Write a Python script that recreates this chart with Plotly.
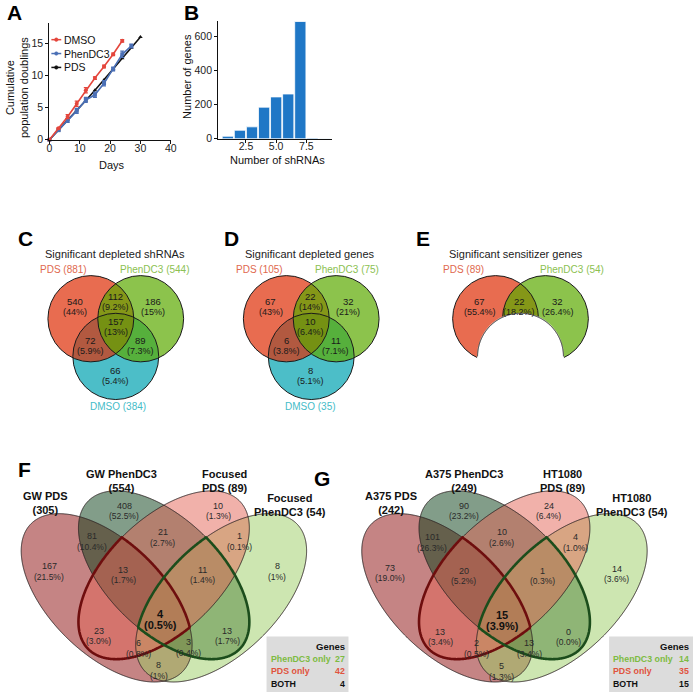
import numpy as np
import plotly.graph_objects as go

FONT = "Liberation Sans, Arial, Helvetica, sans-serif"

# ---------------- Panel A data ----------------
dmso_days = [0, 3, 6, 9, 12, 15, 18, 21, 24]
dmso_pd = [0, 1.8, 3.6, 5.6, 7.7, 9.6, 11.4, 13.3, 15.4]
dmso_err = [0, 0.1, 0.3, 0.4, 0.4, 0.2, 0.2, 0.2, 0.2]
phen_days = [0, 3, 6, 9, 12, 15, 18, 21, 24, 27]
phen_pd = [0, 1.5, 3.0, 4.5, 6.2, 7.0, 8.8, 11.0, 13.3, 14.6]
phen_err = [0, 0.1, 0.3, 0.4, 0.4, 0.4, 0.4, 0.3, 0.5, 0.3]
pds_days = [0, 3, 6, 9, 12, 15, 18, 21, 24, 27, 30]
pds_pd = [0, 1.5, 3.1, 4.6, 6.1, 7.7, 9.3, 11.0, 12.7, 14.3, 16.0]
a_series = ["DMSO", "PhenDC3", "PDS"]

# ---------------- Panel B data ----------------
n_shrnas = [1, 2, 3, 4, 5, 6, 7, 8, 9]
n_genes = [15, 50, 70, 185, 245, 262, 686, 5, 2]
b_xticks = [2.5, 5.0, 7.5]
b_xticktext = ["2.5", "5.0", "7.5"]

# ---------------- Panels C, D, E data ----------------
c_title = "Significant depleted shRNAs"
c_sets = ["PDS (881)", "PhenDC3 (544)", "DMSO (384)"]
c_counts = [540, 112, 186, 157, 72, 89, 66]
c_pcts = ["44%", "9.2%", "15%", "13%", "5.9%", "7.3%", "5.4%"]

d_title = "Significant depleted genes"
d_sets = ["PDS (105)", "PhenDC3 (75)", "DMSO (35)"]
d_counts = [67, 22, 32, 10, 6, 11, 8]
d_pcts = ["43%", "14%", "21%", "6.4%", "3.8%", "7.1%", "5.1%"]

e_title = "Significant sensitizer genes"
e_sets = ["PDS (89)", "PhenDC3 (54)"]
e_counts = [67, 22, 32]
e_pcts = ["55.4%", "18.2%", "26.4%"]

# ---------------- Panels F, G data ----------------
f_sets = ["GW PDS<br>(305)", "GW PhenDC3<br>(554)", "Focused<br>PDS (89)", "Focused<br>PhenDC3 (54)"]
f_counts = [408, 10, 81, 21, 1, 167, 13, 11, 8, 4, 23, 13, 6, 3, 8]
f_pcts = ["52.5%", "1.3%", "10.4%", "2.7%", "0.1%", "21.5%", "1.7%", "1.4%", "1%",
          "0.5%", "3.0%", "1.7%", "0.8%", "0.4%", "1%"]
f_summary_labels = ["PhenDC3 only", "PDS only", "BOTH"]
f_summary_values = [27, 42, 4]

g_sets = ["A375 PDS<br>(242)", "A375 PhenDC3<br>(249)", "HT1080<br>PDS (89)", "HT1080<br>PhenDC3 (54)"]
g_counts = [90, 24, 101, 10, 4, 73, 20, 1, 14, 15, 13, 0, 2, 13, 5]
g_pcts = ["23.2%", "6.4%", "26.3%", "2.6%", "1.0%", "19.0%", "5.2%", "0.3%", "3.6%",
          "3.9%", "3.4%", "0.0%", "0.5%", "3.4%", "1.3%"]
g_summary_labels = ["PhenDC3 only", "PDS only", "BOTH"]
g_summary_values = [14, 35, 15]

# ---------------- layout helpers (page pixel coordinates) ----------------
W = H = 699
shapes = []
annotations = []


def ann(x, y, text, size=9, color="#111", bold=False, xanchor="center", yanchor="middle", angle=0):
    if bold:
        text = "<b>" + text + "</b>"
    annotations.append(dict(x=x, y=y, xref="x3", yref="y3", text=text, showarrow=False,
                            font=dict(family=FONT, size=size, color=color),
                            xanchor=xanchor, yanchor=yanchor, textangle=angle))


def path_str(xs, ys, close=True):
    s = "M " + " L ".join(f"{x:.2f},{y:.2f}" for x, y in zip(xs, ys))
    return s + (" Z" if close else "")


def add_path(xs, ys, fill=None, line=None, width=1.0, close=True):
    shapes.append(dict(type="path", xref="x3", yref="y3", layer="above",
                       path=path_str(xs, ys, close),
                       fillcolor=fill if fill else "rgba(0,0,0,0)",
                       line=dict(color=line if line else "rgba(0,0,0,0)", width=width if line else 0)))


def add_circle(cx, cy, r, fill=None, line=None, width=1.0):
    shapes.append(dict(type="circle", xref="x3", yref="y3", layer="above",
                       x0=cx - r, x1=cx + r, y0=cy - r, y1=cy + r,
                       fillcolor=fill if fill else "rgba(0,0,0,0)",
                       line=dict(color=line if line else "rgba(0,0,0,0)", width=width if line else 0)))


def ellipse_pts(cx, cy, a, b, phi, n=720):
    t = np.linspace(0, 2 * np.pi, n, endpoint=False)
    x = cx + a * np.cos(t) * np.cos(phi) - b * np.sin(t) * np.sin(phi)
    y = cy + a * np.cos(t) * np.sin(phi) + b * np.sin(t) * np.cos(phi)
    return x, y


def inside_ell(e, x, y):
    cx, cy, a, b, phi = e
    dx, dy = x - cx, y - cy
    u = dx * np.cos(phi) + dy * np.sin(phi)
    v = -dx * np.sin(phi) + dy * np.cos(phi)
    return (u / a) ** 2 + (v / b) ** 2 <= 1.0


def lens(e1, e2):
    x1, y1 = ellipse_pts(*e1)
    x2, y2 = ellipse_pts(*e2)
    m1 = inside_ell(e2, x1, y1)
    m2 = inside_ell(e1, x2, y2)
    xs = np.concatenate([x1[m1], x2[m2]])
    ys = np.concatenate([y1[m1], y2[m2]])
    cx, cy = xs.mean(), ys.mean()
    o = np.argsort(np.arctan2(ys - cy, xs - cx))
    return xs[o], ys[o]


# ---------------- panel letters ----------------
for letter, (lx, ly) in zip("ABCDEFG", [(12, 13), (191, 13), (23, 241), (231, 241),
                                         (425, 241), (22, 474), (323, 483)]):
    ann(lx, ly, letter, size=21, color="#000", bold=True)

# ---------------- Panel A legend keys & titles ----------------
a_colors = ["#e4463c", "#4a6fb5", "#111111"]
for i, (name, col) in enumerate(zip(a_series, a_colors)):
    yy = 40 + 14 * i
    add_path([49, 59], [yy, yy], line=col, width=1.5, close=False)
    add_circle(54, yy, 1.8, fill=col, line=col, width=0.5)
    ann(60, yy, name, size=10.5, color="#111", xanchor="left")
ann(110, 166, "Days", size=11, color="#111")
ann(14, 88, "Cumulative<br>population doublings", size=11, color="#111", angle=-90)
ann(187, 77, "Number of genes", size=11, color="#111", angle=-90)
ann(278, 161, "Number of shRNAs", size=11, color="#111")

# ---------------- Panels C, D, E (circle Venns) ----------------
ALPHA3 = 0.7
PDS_FILL = f"rgba(222,45,5,{ALPHA3})"
PHEN_FILL = f"rgba(91,169,0,{ALPHA3})"
DMSO_FILL = f"rgba(0,162,176,{ALPHA3})"
PDS_TXT = "#e0694f"
PHEN_TXT = "#8cc152"
DMSO_TXT = "#45bcc8"
R3 = 43.5
D3 = 50.5
CY3 = 321.5

region_off = [(-16, -17), (25, -22), (63, -17), (25, 3), (0, 22), (50, 22), (25, 52)]


def venn3(px, title, sets, counts, pcts, label_pos):
    centers = [(px, CY3), (px + D3, CY3), (px + D3 / 2, CY3 + 38)]
    fills = [PDS_FILL, PHEN_FILL, DMSO_FILL]
    for i in [2, 0, 1]:
        add_circle(*centers[i], R3, fill=fills[i])
    for i in [2, 0, 1]:
        add_circle(*centers[i], R3, line="#1a1a1a", width=1)
    for (dx, dy), c, p in zip(region_off, counts, pcts):
        ann(px + dx, CY3 + dy, str(c), size=9.5, color="#1a1a1a")
        ann(px + dx, CY3 + dy + 10.5, f"({p})", size=9, color="#1a1a1a")
    ann(px + label_pos[0], 256, title, size=11, color="#222")
    ann(px + label_pos[1], 272, sets[0], size=10, color=PDS_TXT)
    ann(px + label_pos[2], 272, sets[1], size=10, color=PHEN_TXT)
    ann(px + label_pos[3], 410, sets[2], size=10, color=DMSO_TXT)


venn3(89, c_title, c_sets, c_counts, c_pcts, (24, -28, 64, 28))
venn3(287, d_title, d_sets, d_counts, d_pcts, (24, -27, 61, 25))

# Panel E: two circles with a white cut-out
pxE = 499
cE = [(pxE, CY3), (pxE + D3, CY3)]
add_circle(*cE[0], R3, fill=PDS_FILL)
add_circle(*cE[1], R3, fill=PHEN_FILL)
add_circle(*cE[0], R3, line="#1a1a1a", width=1)
add_circle(*cE[1], R3, line="#1a1a1a", width=1)
wc = (pxE + D3 / 2, CY3 + 38)
add_circle(*wc, R3 + 0.6, fill="#ffffff")
t = np.linspace(np.pi, 2 * np.pi, 400)
ax_ = wc[0] + R3 * np.cos(t)
ay_ = wc[1] + R3 * np.sin(t)
m = ((ax_ - cE[0][0]) ** 2 + (ay_ - cE[0][1]) ** 2 <= R3 ** 2) | ((ax_ - cE[1][0]) ** 2 + (ay_ - cE[1][1]) ** 2 <= R3 ** 2)
add_path(ax_[m], ay_[m], line="#1a1a1a", width=1, close=False)
for dx, c, p in zip([-16, 24, 63], e_counts, e_pcts):
    ann(pxE + dx, CY3 - 17, str(c), size=9.5, color="#1a1a1a")
    ann(pxE + dx, CY3 - 6.5, f"({p})", size=9, color="#1a1a1a")
ann(pxE + 21, 256, e_title, size=11, color="#222")
ann(pxE - 33, 272, e_sets[0], size=10, color=PDS_TXT)
ann(pxE + 77, 272, e_sets[1], size=10, color=PHEN_TXT)

# ---------------- Panels F, G (four-ellipse Venns) ----------------
ALPHA4 = 0.5
E_FILLS = [f"rgba(140,10,10,{ALPHA4})", f"rgba(5,60,20,{ALPHA4})",
           f"rgba(228,100,85,{ALPHA4})", f"rgba(155,205,100,{ALPHA4})"]
EA, EB, PHI = 107, 57, np.deg2rad(44)

f_pos = [(-40, 510), (55, 510), (-73, 541), (-1, 537), (77, 541), (-116, 571), (-41, 575),
         (39, 575), (115, 571), (-3, 619), (-66, 636), (64, 636), (-26, 649), (25, 648), (-5, 671)]
g_pos = [(-41, 510), (45, 510), (-73, 542), (-3, 537), (72, 542), (-116, 573), (-41, 576),
         (39, 576), (114, 574), (-2, 620), (-65, 637), (65, 637), (-28, 649), (25, 649), (-3, 672)]


def venn4(xc, sets, set_pos, counts, pcts, pos, summ_labels, summ_values, box):
    ells = [(xc - 58, 603, EA, EB, PHI), (xc, 580, EA, EB, PHI),
            (xc, 580, EA, EB, -PHI), (xc + 58, 603, EA, EB, -PHI)]
    for k in [0, 1, 3, 2]:
        x, y = ellipse_pts(*ells[k])
        add_path(x, y, fill=E_FILLS[k])
    for e in ells:
        x, y = ellipse_pts(*e)
        add_path(x, y, line="rgba(45,35,35,0.9)", width=1)
    lx, ly = lens(ells[0], ells[2])
    add_path(lx, ly, line="#6e0e0e", width=2.6)
    lx, ly = lens(ells[1], ells[3])
    add_path(lx, ly, line="#1c4d1c", width=2.6)
    for i, ((dx, yy), c, p) in enumerate(zip(pos, counts, pcts)):
        big = (i == 9)
        ann(xc + dx, yy, str(c), size=11 if big else 9, color="#111" if big else "#2a2a2a", bold=big)
        ann(xc + dx, yy + (11 if big else 10.5), f"({p})", size=11 if big else 8.5,
            color="#111" if big else "#2a2a2a", bold=big)
    for s, (dx, yy) in zip(sets, set_pos):
        ann(xc + dx, yy, s, size=11, color="#111", bold=True)
    bx0, bx1 = box
    shapes.append(dict(type="rect", xref="x3", yref="y3", layer="above", x0=bx0, x1=bx1,
                       y0=642, y1=698, fillcolor="#dcdcdc", line=dict(width=0)))
    ann(bx1 - 2, 652, "Genes", size=9.5, color="#111", bold=True, xanchor="right")
    cols = ["#7dbb42", "#e0533d", "#111111"]
    for k, (lab, v, col) in enumerate(zip(summ_labels, summ_values, cols)):
        yy = 664.5 + 12.5 * k
        ann(bx0 + 2, yy, lab, size=8.8, color=col, bold=True, xanchor="left")
        ann(bx1 - 2, yy, str(v), size=8.8, color=col, bold=True, xanchor="right")


venn4(163, f_sets, [(-120, 507), (-43, 485), (62, 485), (128, 509)], f_counts, f_pcts, f_pos,
      f_summary_labels, f_summary_values, (267, 350))
venn4(508, g_sets, [(-115, 507), (-41, 485), (59, 485), (129, 509)], g_counts, g_pcts, g_pos,
      g_summary_labels, g_summary_values, (614, 699))

# ---------------- traces ----------------
fig = go.Figure()
fig.add_trace(go.Scatter(x=pds_days, y=pds_pd, mode="lines+markers", name=a_series[2],
                         line=dict(color=a_colors[2], width=1.6),
                         marker=dict(symbol="triangle-up", size=4, color=a_colors[2]),
                         xaxis="x", yaxis="y", showlegend=False, cliponaxis=False))
fig.add_trace(go.Scatter(x=phen_days, y=phen_pd, mode="lines+markers", name=a_series[1],
                         line=dict(color=a_colors[1], width=1.6),
                         marker=dict(symbol="square", size=4, color=a_colors[1]),
                         error_y=dict(type="data", array=phen_err, color=a_colors[1], thickness=1.2, width=2),
                         xaxis="x", yaxis="y", showlegend=False, cliponaxis=False))
fig.add_trace(go.Scatter(x=dmso_days, y=dmso_pd, mode="lines+markers", name=a_series[0],
                         line=dict(color=a_colors[0], width=1.6),
                         marker=dict(symbol="circle", size=4, color=a_colors[0]),
                         error_y=dict(type="data", array=dmso_err, color=a_colors[0], thickness=1.2, width=2),
                         xaxis="x", yaxis="y", showlegend=False, cliponaxis=False))
fig.add_trace(go.Bar(x=n_shrnas, y=n_genes, marker=dict(color="#1f77c6", line=dict(color="#ffffff", width=0.8)),
                     width=0.93, xaxis="x2", yaxis="y2", showlegend=False))

axis_common = dict(showgrid=False, zeroline=False, showline=True, linecolor="#111", linewidth=1.2,
                   ticks="outside", ticklen=3, tickcolor="#111",
                   tickfont=dict(family=FONT, size=10.5, color="#222"), fixedrange=True)

fig.update_layout(
    width=W, height=H, margin=dict(l=0, r=0, t=0, b=0), autosize=False,
    paper_bgcolor="#ffffff", plot_bgcolor="rgba(0,0,0,0)", showlegend=False,
    bargap=0.05,
    xaxis=dict(domain=[47 / W, 170 / W], range=[0, 40], tickvals=[0, 10, 20, 30, 40], anchor="y",
               ticklabelstandoff=-4, **axis_common),
    yaxis=dict(domain=[1 - 141 / H, 1 - 23 / H], range=[0, 18.2], tickvals=[0, 5, 10, 15], anchor="x", **axis_common),
    xaxis2=dict(domain=[218 / W, 333 / W], range=[0.2, 9.6], tickvals=b_xticks, ticktext=b_xticktext,
                anchor="y2", ticklabelstandoff=-5, **axis_common),
    yaxis2=dict(domain=[1 - 140 / H, 1 - 21 / H], range=[0, 690], tickvals=[0, 200, 400, 600],
                anchor="x2", **axis_common),
    xaxis3=dict(domain=[0, 1], range=[0, W], visible=False, anchor="y3", fixedrange=True),
    yaxis3=dict(domain=[0, 1], range=[H, 0], visible=False, anchor="x3", fixedrange=True),
    shapes=shapes, annotations=annotations,
)
# keep the full-page overlay axis active
fig.add_trace(go.Scatter(x=[None], y=[None], xaxis="x3", yaxis="y3", showlegend=False, hoverinfo="skip"))

fig.write_html("out.html", config={"displayModeBar": False},
               post_script="document.body.style.margin='0';document.body.style.overflow='hidden';")
